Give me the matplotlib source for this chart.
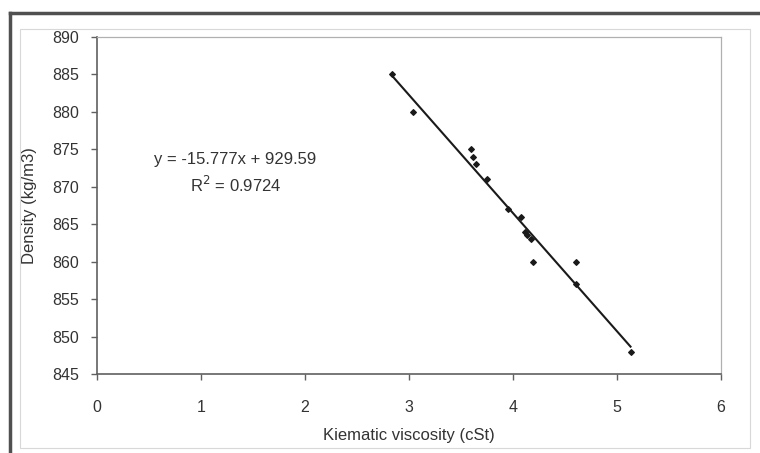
import matplotlib
matplotlib.use("Agg")
import matplotlib.pyplot as plt
from matplotlib.lines import Line2D
from matplotlib.patches import Rectangle

plt.rcParams['font.family'] = ['Liberation Sans', 'DejaVu Sans']

# Measured samples: kinematic viscosity vs density
viscosity = [2.84, 3.04, 3.60, 3.62, 3.64, 3.75, 3.95, 4.08, 4.12, 4.13, 4.17, 4.19, 4.61, 4.61, 5.13]
density = [885, 880, 875, 874, 873, 871, 867, 866, 864, 863.5, 863, 860, 860, 857, 848]

# Linear trend line
slope = -15.777
intercept = 929.59
r_squared = 0.9724

x_ticks = [0, 1, 2, 3, 4, 5, 6]
y_ticks = [845, 850, 855, 860, 865, 870, 875, 880, 885, 890]

W, H = 760, 453
fig = plt.figure(figsize=(W / 100, H / 100), dpi=100)
fig.patch.set_facecolor('white')

# Outer frame: heavy left and top edges, thin inner chart-area border
fig.add_artist(Line2D([10 / W, 10 / W], [0, 1 - 13 / H], transform=fig.transFigure,
                      color='#505050', lw=2.5))
fig.add_artist(Line2D([10 / W, 1], [1 - 13 / H, 1 - 13 / H], transform=fig.transFigure,
                      color='#505050', lw=2.5))
fig.add_artist(Rectangle((20 / W, 1 - 448 / H), (750 - 20) / W, (448 - 29) / H,
                         transform=fig.transFigure, fill=False, ec='#d8d8d8', lw=0.8))

ax = fig.add_axes([97 / W, 1 - 374 / H, (721 - 97) / W, (374 - 37) / H])
ax.set_facecolor('white')

ax.scatter(viscosity, density, marker='D', s=8, color='#1a1a1a', zorder=3)

x0, x1 = min(viscosity), max(viscosity)
ax.plot([x0, x1], [slope * x0 + intercept, slope * x1 + intercept],
        color='#1a1a1a', lw=1.5, zorder=2)

ax.set_xlim(0, 6)
ax.set_ylim(845, 890)
ax.set_xticks(x_ticks)
ax.set_yticks(y_ticks)
ax.set_xticklabels([str(t) for t in x_ticks])
ax.set_yticklabels([str(t) for t in y_ticks])

for side in ['left', 'bottom']:
    ax.spines[side].set_color('#606060')
    ax.spines[side].set_linewidth(1.2)
for side in ['top', 'right']:
    ax.spines[side].set_color('#b0b0b0')
    ax.spines[side].set_linewidth(0.9)

ax.tick_params(axis='both', direction='out', length=4, width=1, color='#606060',
               labelsize=11.5, labelcolor='#333333')
ax.tick_params(axis='x', pad=15)
ax.tick_params(axis='y', pad=9)

ax.set_xlabel('Kiematic viscosity (cSt)', fontsize=12, color='#333333', labelpad=9)
ax.set_ylabel('Density (kg/m3)', fontsize=12, color='#333333')
ax.yaxis.set_label_coords(-(97 - 37) / (721 - 97), 0.5)

ax.text(1.33, 873.6, f'y = {slope}x + {intercept}', ha='center', va='center',
        fontsize=12, color='#333333')
ax.text(1.33, 870.2, f'R$^2$ = {r_squared}', ha='center', va='center',
        fontsize=12, color='#333333')

fig.savefig('out.png', dpi=100, facecolor='white')
